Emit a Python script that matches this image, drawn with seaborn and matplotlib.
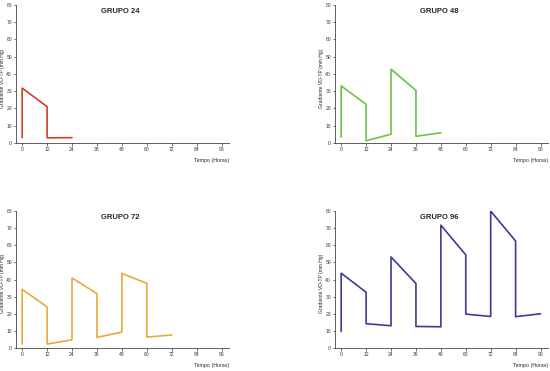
import numpy as np
import pandas as pd
import matplotlib
matplotlib.use("Agg")
import matplotlib.pyplot as plt
import seaborn as sns

# --- data (hours, gradient mm Hg) ---
x_24 = [0, 0, 12, 12, 24]
y_24 = [3, 31.7, 21, 2.9, 3]

x_48 = [0, 0, 12, 12, 24, 24, 36, 36, 48]
y_48 = [3.3, 33, 22.3, 1.2, 5, 42.7, 30.4, 3.8, 5.8]

x_72 = [0, 0, 12, 12, 24, 24, 36, 36, 48, 48, 60, 60, 72]
y_72 = [2.3, 34.3, 24, 2.3, 4.8, 40.9, 31.8, 6.2, 9.3, 43.6, 37.8, 6.4, 7.6]

x_96 = [0, 0, 12, 12, 24, 24, 36, 36, 48, 48, 60, 60, 72, 72, 84, 84, 96]
y_96 = [9.7, 43.7, 32.6, 14.2, 13, 53.2, 37.7, 12.6, 12.4, 71.8, 54.4, 19.8, 18.4, 80, 62.5, 18.3, 20]

titles = ["GRUPO 24", "GRUPO 48", "GRUPO 72", "GRUPO 96"]
colors = ["#d83a2a", "#6cc24a", "#e8aa3a", "#3c3c96"]
x_ticks = [0, 12, 24, 36, 48, 60, 72, 84, 96]
y_ticks = [0, 10, 20, 30, 40, 50, 60, 70, 80]

sns.set_style("ticks")
plt.rcParams["font.family"] = ["Liberation Sans", "DejaVu Sans"]

fig = plt.figure(figsize=(5.5, 3.71), dpi=100)

# axes boxes in figure fractions (left, bottom, width, height)
boxes = [
    [0.029, 0.615, 0.387, 0.372],
    [0.609, 0.615, 0.387, 0.372],
    [0.029, 0.062, 0.387, 0.369],
    [0.609, 0.062, 0.387, 0.369],
]
series = [(x_24, y_24), (x_48, y_48), (x_72, y_72), (x_96, y_96)]

for box, (xs, ys), title, color in zip(boxes, series, titles, colors):
    ax = fig.add_axes(box)
    df = pd.DataFrame({"hora": xs, "grad": ys})
    sns.lineplot(data=df, x="hora", y="grad", sort=False, estimator=None,
                 color=color, linewidth=1.2, ax=ax)
    ax.set_xlim(-3, 99.5)
    ax.set_ylim(0, 80)
    ax.set_xticks(x_ticks)
    ax.set_yticks(y_ticks)
    ax.tick_params(labelsize=3.6, length=1.8, width=0.5, pad=1, colors="#333333")
    for side in ["top", "right"]:
        ax.spines[side].set_visible(False)
    for side in ["left", "bottom"]:
        ax.spines[side].set_linewidth(0.6)
        ax.spines[side].set_color("#444444")
    ax.set_xlabel("")
    ax.set_ylabel("")
    ax.text(0.49, 0.955, title, transform=ax.transAxes, ha="center",
            va="center", fontsize=5.5, fontweight="bold")
    ax.text(1.0, -0.13, "Tempo (Horas)", transform=ax.transAxes,
            ha="right", va="center", fontsize=3.8)
    ax.text(-0.064, 0.47, "Gradiente VD-TP (mm Hg)", transform=ax.transAxes,
            ha="center", va="center", rotation=90, fontsize=3.6)

plt.savefig("out.png", dpi=100)
